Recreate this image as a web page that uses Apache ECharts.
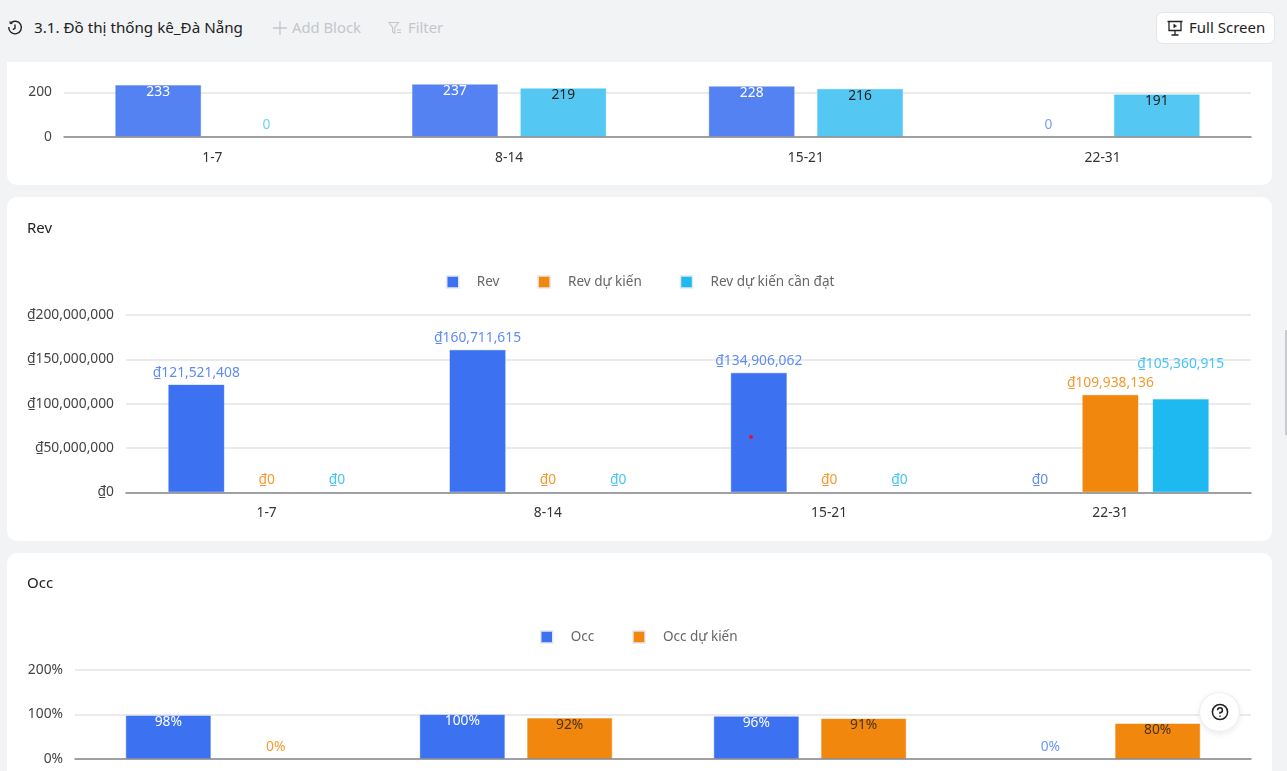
<!DOCTYPE html>
<html><head><meta charset="utf-8">
<script src="https://cdn.jsdelivr.net/npm/echarts@6/dist/echarts.min.js"></script>
<style>
html,body{margin:0;padding:0;width:1287px;height:771px;overflow:hidden;background:#f1f3f5;font-family:"Noto Sans",sans-serif}
.card{position:absolute;left:7px;width:1265px;background:#fff;border-radius:10px}
#chart{position:absolute;left:0;top:0;width:1287px;height:771px;z-index:2}
#bar{position:absolute;left:0;top:0;width:1287px;height:62px;background:#f1f3f5;z-index:3}
#bar span,#bar svg{position:absolute}
.t{white-space:nowrap;line-height:20px}
#fs{position:absolute;left:1156px;top:12px;width:117px;height:30px;background:#fff;border:1px solid #e4e6ea;border-radius:7px}
#help{position:absolute;left:1199px;top:692px;width:41px;height:40px;border-radius:50%;background:#fff;border:1px solid #eceef0;box-sizing:border-box;box-shadow:0 2px 6px rgba(0,0,0,.08);z-index:4}
#dot{position:absolute;left:749px;top:435px;width:4px;height:4px;border-radius:50%;background:#e8112d;z-index:4}
#sb{position:absolute;left:1285px;top:330px;width:2px;height:105px;background:#c9cbce;z-index:4}
</style></head>
<body>
<div class="card" style="top:40px;height:145px"></div>
<div class="card" style="top:197px;height:344px"></div>
<div class="card" style="top:553px;height:260px"></div>
<div id="chart"></div>
<div id="bar">
<svg style="left:7px;top:20px" width="16" height="16" viewBox="0 0 16 16" fill="none" stroke="#222" stroke-width="1.4"><path d="M3.5 3.2A6.3 6.3 0 1 1 1.8 7"/><path d="M8 4.5V8.3L5.8 9.6"/><path d="M3 1.2V3.6H5.4" stroke-width="1"/></svg>
<span class="t" style="left:34px;top:17px;font-size:15.2px;color:#222">3.1. Đồ thị thống kê_Đà Nẵng</span>
<svg style="left:273px;top:21px" width="14" height="14" viewBox="0 0 14 14" stroke="#c4c6cb" stroke-width="1.3"><path d="M7 0V14M0 7H14"/></svg>
<span class="t" style="left:292px;top:17px;font-size:14.8px;color:#c4c6cb">Add Block</span>
<svg style="left:388px;top:21px" width="14" height="14" viewBox="0 0 14 14" fill="none" stroke="#c4c6cb" stroke-width="1.1"><path d="M.8 1.5H10.5L6.8 6.5V12L4.6 10.8V6.5ZM9 9H13M9 11.5H13"/></svg>
<span class="t" style="left:408px;top:17px;font-size:14.8px;color:#c4c6cb">Filter</span>
<div id="fs"></div>
<svg style="left:1167px;top:20px" width="16" height="16" viewBox="0 0 16 16" fill="none" stroke="#222" stroke-width="1.3"><path d="M.5 1.5H15.5M2 1.5V10.5H14V1.5M8 10.5V14.5M4.5 15H11.5"/><path d="M6.8 4.2V7.8L9.6 6Z" fill="#222" stroke-width=".6"/></svg>
<span class="t" style="left:1189px;top:17px;font-size:15px;color:#222">Full Screen</span>
</div>
<div id="dot"></div><div id="sb"></div>
<div id="help"><svg style="position:absolute;left:10.5px;top:10px" width="18" height="18" viewBox="0 0 18 18" fill="none" stroke="#222" stroke-width="1.5"><circle cx="9" cy="9" r="7.6"/><path d="M6.6 7.2A2.4 2.4 0 1 1 9 9.6V10.8"/><path d="M9 12.4V13.8"/></svg></div>
<script>
const categories = ['1-7', '8-14', '15-21', '22-31'];
const nightsActual = [233, 237, 228, 0];
const nightsTarget = [0, 219, 216, 191];
const revActual = [121521408, 160711615, 134906062, 0];
const revForecast = [0, 0, 0, 109938136];
const revRequired = [0, 0, 0, 105360915];
const occActual = [98, 100, 96, 0];
const occForecast = [0, 92, 91, 80];
const revTicks = 50000000;

const FONT = '"Noto Sans", sans-serif';
const SIZE = 13.8;
const BLUE = '#3c72f1', ORANGE = '#f2870e', CYAN = '#1fb9f2';
const money = v => '₫' + Number(v).toLocaleString('en-US');
const pct = v => v + '%';

function barSeries(name, values, idx, color, o) {
  return {
    name, type: 'bar', xAxisIndex: idx, yAxisIndex: idx,
    barGap: o.gap || '25%', barCategoryGap: o.catGap,
    itemStyle: { color },
    labelLayout: o.layout,
    data: values.map(v => ({
      value: v,
      itemStyle: v !== 0 ? { borderColor: color + '66', borderWidth: 1 } : { borderWidth: 0 },
      label: (o.inside && v !== 0)
        ? { show: true, position: 'insideTop', distance: 0, color: o.insideColor, fontSize: SIZE, fontFamily: FONT, formatter: p => o.fmt(p.value) }
        : { show: true, position: 'top', distance: 5, color: o.outsideColor, fontSize: SIZE, fontFamily: FONT, formatter: p => o.fmt(p.value) }
    }))
  };
}
function xA(i) {
  return { type: 'category', gridIndex: i, data: categories, z: 3,
    axisTick: { show: false },
    axisLine: { lineStyle: { color: '#85888c', width: 1.5 } },
    axisLabel: { color: '#333', fontSize: SIZE, fontFamily: FONT, margin: 14 } };
}
function yA(i, max, interval, fmt, margin) {
  return { type: 'value', gridIndex: i, min: 0, max, interval,
    axisLine: { show: false }, axisTick: { show: false },
    splitLine: { lineStyle: { color: '#e4e5e9', width: 1.5 } },
    axisLabel: { color: '#444', fontSize: SIZE, fontFamily: FONT, margin, padding: [3, 0, 0, 0], formatter: fmt } };
}
function legend(left, top, names) {
  return { left, top, padding: 0, data: names, icon: 'rect', itemWidth: 12, itemHeight: 12, itemGap: 38,
    selectedMode: false,
    itemStyle: { borderColor: '#e3e7f0', borderWidth: 1.5 },
    textStyle: { color: '#666', fontSize: 13.5, fontFamily: FONT, padding: [0, 0, 0, 13] } };
}
const titleStyle = { color: '#222', fontSize: 15, fontWeight: 'normal', fontFamily: FONT };
const option = {
  animation: false,
  title: [
    { text: 'Rev', left: 27, top: 221, padding: 0, textStyle: titleStyle },
    { text: 'Occ', left: 27, top: 576, padding: 0, textStyle: titleStyle }
  ],
  legend: [
    legend(446, 275, ['Rev', 'Rev dự kiến', 'Rev dự kiến cần đạt']),
    legend(540, 630, ['Occ', 'Occ dự kiến'])
  ],
  grid: [
    { left: 64, width: 1187, top: 48, height: 88.7, outerBoundsMode: 'none' },
    { left: 126, width: 1125, top: 315, height: 177.3, outerBoundsMode: 'none' },
    { left: 75, width: 1176, top: 670, height: 89, outerBoundsMode: 'none' }
  ],
  xAxis: [xA(0), xA(1), xA(2)],
  yAxis: [
    yA(0, 400, 200, v => v, 12),
    yA(1, revTicks * 4, revTicks, money, 12),
    yA(2, 200, 100, pct, 12)
  ],
  series: [
    barSeries('Đã đạt', nightsActual, 0, '#5482f2', { catGap: '34.5%', gap: '26%', inside: true, insideColor: '#fff', outsideColor: '#7da0f5', fmt: v => v }),
    barSeries('Cần đạt', nightsTarget, 0, '#55c7f3', { catGap: '34.5%', gap: '26%', inside: true, insideColor: '#222', outsideColor: '#6fd0f7', fmt: v => v }),
    barSeries('Rev', revActual, 1, BLUE, { catGap: '30%', outsideColor: '#5f8bf3', fmt: money }),
    barSeries('Rev dự kiến', revForecast, 1, ORANGE, { catGap: '30%', outsideColor: '#f4992f', fmt: money }),
    barSeries('Rev dự kiến cần đạt', revRequired, 1, CYAN, { catGap: '30%', outsideColor: '#45c4f5', fmt: money,
      layout: p => (p.dataIndex === 3 ? { dy: -23 } : {}) }),
    barSeries('Occ', occActual, 2, BLUE, { catGap: '34.5%', gap: '26%', inside: true, insideColor: '#fff', outsideColor: '#6d97f5', fmt: pct }),
    barSeries('Occ dự kiến', occForecast, 2, ORANGE, { catGap: '34.5%', gap: '26%', inside: true, insideColor: '#4a3418', outsideColor: '#f59a2e', fmt: pct })
  ]
};
echarts.init(document.getElementById('chart')).setOption(option);
</script>
</body></html>
